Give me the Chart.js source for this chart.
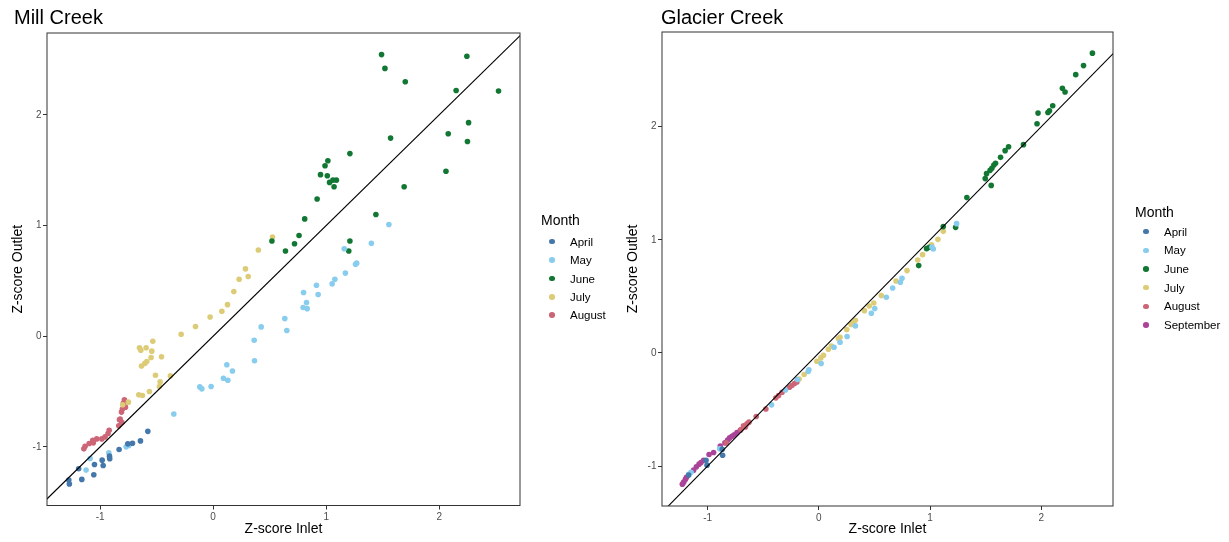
<!DOCTYPE html>
<html>
<head>
<meta charset="utf-8">
<title>Inlet vs outlet z-scores</title>
<script src="https://cdn.jsdelivr.net/npm/chart.js@4.4.0/dist/chart.umd.min.js"></script>
<style>
  html, body { margin: 0; padding: 0; background: #fff; }
  #wrap { position: relative; width: 1229px; height: 542px; overflow: hidden;
          font-family: "Liberation Sans", Arial, Helvetica, sans-serif; color: #000; }
  canvas { position: absolute; top: 0; }
  .ptitle { position: absolute; font-size: 20px; line-height: 22px; white-space: nowrap; }
  .lg-title { position: absolute; font-size: 14px; line-height: 16px; white-space: nowrap; }
  .lg-dot { position: absolute; width: 5.6px; height: 5.6px; border-radius: 50%; }
  .lg-text { position: absolute; font-size: 11.5px; line-height: 12px; white-space: nowrap; }
</style>
</head>
<body>
<div id="wrap">
  <canvas id="mill" width="615" height="542" style="left:0px"></canvas>
  <canvas id="glacier" width="614" height="542" style="left:615px"></canvas>
  <div class="ptitle" style="left:14px; top:6px">Mill Creek</div>
  <div class="ptitle" style="left:661px; top:6px">Glacier Creek</div>
  <div id="legend-mill"></div>
  <div id="legend-glacier"></div>
</div>
<script>
// ---- colours per month ----
const monthNames = ["April", "May", "June", "July", "August", "September"];
const monthColors = ["#4477AA", "#88CCEE", "#117733", "#DDCC77", "#CC6677", "#AA4499"];

// ---- tick values ----
const millXTicks = [-1, 0, 1, 2];
const millYTicks = [-1, 0, 1, 2];
const glacierXTicks = [-1, 0, 1, 2];
const glacierYTicks = [-1, 0, 1, 2];

// ---- 1:1 reference line ----
const oneToOne = [[-5, -5], [5, 5]];

// ---- Mill Creek: [z inlet, z outlet] ----
const millApril = [[-0.578,-0.86],[-0.643,-0.946],[-0.714,-0.967],[-0.755,-0.973],[-0.832,-1.024],
  [-0.917,-1.084],[-0.915,-1.108],[-0.982,-1.12],[-1.05,-1.159],[-0.973,-1.168],[-1.19,-1.198],
  [-1.056,-1.252],[-1.162,-1.294],[-1.277,-1.30],[-1.272,-1.336]];
const millMay = [[1.555,1.01],[1.40,0.84],[1.16,0.79],[1.27,0.66],[1.26,0.65],[1.17,0.57],[1.077,0.515],
  [1.053,0.473],[0.914,0.461],[0.929,0.377],[0.80,0.395],[0.826,0.305],[0.796,0.26],[0.832,0.249],
  [0.634,0.159],[0.652,0.051],[0.425,0.084],[0.363,-0.036],[0.366,-0.222],[0.121,-0.258],[0.171,-0.314],
  [0.091,-0.38],[0.13,-0.398],[-0.118,-0.458],[-0.10,-0.476],[-0.018,-0.455],[-0.348,-0.703],
  [-0.746,-0.988],[-0.77,-1.0],[-0.923,-1.054],[-1.088,-1.105],[-1.124,-1.21]];
const millJune = [[1.49,2.545],[1.52,2.42],[1.70,2.30],[2.245,2.53],[2.15,2.22],[2.525,2.215],[2.26,1.93],
  [2.08,1.83],[2.25,1.76],[1.57,1.79],[1.21,1.65],[1.015,1.585],[0.99,1.54],[0.95,1.46],[1.01,1.45],
  [1.06,1.41],[1.09,1.41],[1.03,1.39],[1.07,1.35],[2.06,1.49],[0.92,1.24],[1.69,1.35],[0.81,1.06],
  [1.44,1.10],[0.76,0.91],[0.72,0.835],[1.21,0.86],[0.52,0.86],[0.64,0.77],[1.20,0.77]];
const millJuly = [[0.525,0.896],[0.40,0.779],[0.286,0.608],[0.31,0.539],[0.23,0.515],[0.183,0.404],
  [0.127,0.285],[0.077,0.225],[-0.027,0.174],[-0.156,0.087],[-0.283,0.018],[-0.534,-0.045],
  [-0.652,-0.105],[-0.64,-0.126],[-0.593,-0.105],[-0.543,-0.135],[-0.457,-0.186],[-0.549,-0.192],
  [-0.587,-0.228],[-0.604,-0.246],[-0.634,-0.27],[-0.51,-0.353],[-0.378,-0.359],[-0.469,-0.413],
  [-0.475,-0.455],[-0.564,-0.50],[-0.658,-0.53],[-0.626,-0.536],[-0.75,-0.596],[-0.80,-0.62]];
const millAugust = [[-0.785,-0.575],[-0.794,-0.605],[-0.776,-0.641],[-0.803,-0.659],[-0.811,-0.686],
  [-0.823,-0.749],[-0.829,-0.755],[-0.808,-0.779],[-0.835,-0.809],[-0.92,-0.85],[-0.93,-0.88],
  [-0.956,-0.91],[-0.985,-0.928],[-1.03,-0.928],[-1.065,-0.94],[-1.06,-0.964],[-1.097,-0.97],
  [-1.133,-0.994],[-1.144,-1.018]];

// ---- Glacier Creek: [z inlet, z outlet] ----
const glacierApril = [[-0.865,-0.904],[-0.868,-0.851],[-1.005,-0.992],[-1.014,-0.948],[-1.17,-1.08]];
const glacierMay = [[1.239,1.143],[1.029,0.919],[1.017,0.936],[0.748,0.66],[0.733,0.625],[0.664,0.574],
  [0.607,0.492],[0.503,0.392],[0.472,0.351],[0.329,0.239],[0.254,0.145],[0.191,0.095],[0.137,0.05],
  [0.021,-0.094],[-0.09,-0.15],[-0.096,-0.164],[-0.192,-0.235],[-0.30,-0.327],[-0.425,-0.459],
  [-0.892,-0.848],[-1.149,-1.054],[-1.17,-1.072]];
const glacierJune = [[2.46,2.65],[2.38,2.54],[2.31,2.46],[2.19,2.34],[2.214,2.306],[2.103,2.185],
  [2.074,2.141],[2.06,2.126],[1.971,2.12],[1.962,2.026],[1.84,1.841],[1.706,1.823],[1.675,1.788],
  [1.634,1.729],[1.589,1.676],[1.574,1.661],[1.556,1.632],[1.54,1.614],[1.508,1.585],[1.496,1.541],
  [1.55,1.481],[1.331,1.373],[1.119,1.117],[1.23,1.11],[0.969,0.922],[0.993,0.934],[0.898,0.772]];
const glacierJuly = [[1.119,1.075],[1.071,1.004],[1.014,0.957],[0.933,0.869],[0.889,0.822],[0.793,0.728],
  [0.694,0.636],[0.562,0.507],[0.494,0.442],[0.454,0.415],[0.41,0.374],[0.329,0.289],[0.305,0.265],
  [0.29,0.251],[0.251,0.207],[0.191,0.139],[0.176,0.127],[0.113,0.062],[0.086,0.033],[0.042,-0.02],
  [0.018,-0.044],[-0.018,-0.073],[-0.132,-0.191],[-0.177,-0.23]];
const glacierAugust = [[-0.197,-0.256],[-0.219,-0.27],[-0.242,-0.288],[-0.264,-0.303],[-0.33,-0.347],
  [-0.362,-0.376],[-0.386,-0.397],[-0.476,-0.495],[-0.563,-0.562],[-0.628,-0.612],[-0.646,-0.627],
  [-0.66,-0.654],[-0.677,-0.645],[-0.70,-0.677],[-0.832,-0.795]];
const glacierSeptember = [[-0.706,-0.683],[-0.736,-0.703],[-0.76,-0.724],[-0.781,-0.736],[-0.802,-0.751],
  [-0.82,-0.771],[-0.844,-0.795],[-0.886,-0.822],[-0.946,-0.88],[-0.987,-0.898],[-1.036,-0.948],
  [-1.059,-0.969],[-1.077,-0.983],[-1.101,-1.007],[-1.126,-1.036],[-1.19,-1.10],[-1.20,-1.118],
  [-1.215,-1.142],[-1.227,-1.16]];

const millSeries = [millApril, millMay, millJune, millJuly, millAugust];
const glacierSeries = [glacierApril, glacierMay, glacierJune, glacierJuly, glacierAugust, glacierSeptember];

Chart.defaults.font.family = '"Liberation Sans", Arial, Helvetica, sans-serif';
Chart.defaults.color = '#4D4D4D';

// box around the plotting panel
const panelBorder = {
  id: 'panelBorder',
  afterDatasetsDraw(chart) {
    const { ctx, chartArea: a } = chart;
    ctx.save();
    ctx.strokeStyle = '#333333';
    ctx.lineWidth = 1;
    ctx.strokeRect(a.left, a.top, a.right - a.left, a.bottom - a.top);
    ctx.restore();
  }
};

function toXY(pairs) { return pairs.map(p => ({ x: p[0], y: p[1] })); }

function buildChart(canvasId, series, cfg) {
  const datasets = series.map((pts, i) => ({
    type: 'scatter',
    label: monthNames[i],
    data: toXY(pts),
    backgroundColor: monthColors[i],
    borderWidth: 0,
    pointRadius: 2.8,
    pointHoverRadius: 2.8,
    order: 1
  }));
  datasets.push({
    type: 'line',
    label: '1:1',
    data: toXY(oneToOne),
    borderColor: '#000000',
    borderWidth: 1.1,
    pointRadius: 0,
    fill: false,
    clip: 0,
    order: 0
  });

  const gridOpts = { display: true, drawOnChartArea: false, drawTicks: true,
                     tickLength: 4, tickColor: '#333333', color: '#333333' };

  return new Chart(document.getElementById(canvasId), {
    data: { datasets },
    options: {
      responsive: false,
      animation: false,
      devicePixelRatio: 1,
      events: [],
      layout: { padding: cfg.padding },
      plugins: { legend: { display: false }, tooltip: { enabled: false } },
      scales: {
        x: {
          type: 'linear', position: 'bottom',
          min: cfg.xMin, max: cfg.xMax,
          afterBuildTicks: s => { s.ticks = cfg.xTicks.map(v => ({ value: v })); },
          afterFit: s => { s.height = cfg.xHeight; },
          grid: gridOpts,
          border: { display: false },
          ticks: { color: '#4D4D4D', font: { size: 10 }, padding: 2, maxRotation: 0, autoSkip: false },
          title: { display: true, text: 'Z-score Inlet', color: '#000', font: { size: 14 },
                   padding: { top: 0, bottom: 4.6 } }
        },
        y: {
          type: 'linear', position: 'left',
          min: cfg.yMin, max: cfg.yMax,
          afterBuildTicks: s => { s.ticks = cfg.yTicks.map(v => ({ value: v })); },
          afterFit: s => { s.width = 47; },
          grid: gridOpts,
          border: { display: false },
          ticks: { color: '#4D4D4D', font: { size: 10 }, padding: 1.5, autoSkip: false },
          title: { display: true, text: 'Z-score Outlet', color: '#000', font: { size: 14 },
                   padding: { top: 9.6, bottom: 0 } }
        }
      }
    },
    plugins: [panelBorder]
  });
}

buildChart('mill', millSeries, {
  xMin: -1.47, xMax: 2.715, yMin: -1.53, yMax: 2.74,
  xTicks: millXTicks, yTicks: millYTicks,
  padding: { left: 0, top: 33, right: 95, bottom: 0 }, xHeight: 36.5
});
buildChart('glacier', glacierSeries, {
  xMin: -1.41, xMax: 2.645, yMin: -1.353, yMax: 2.837,
  xTicks: glacierXTicks, yTicks: glacierYTicks,
  padding: { left: 0, top: 32, right: 116, bottom: 0 }, xHeight: 36
});

// month legends
function buildLegend(hostId, count, x, titleTop, firstY, step) {
  const host = document.getElementById(hostId);
  const t = document.createElement('div');
  t.className = 'lg-title';
  t.textContent = 'Month';
  t.style.left = (x - 11) + 'px';
  t.style.top = titleTop + 'px';
  host.appendChild(t);
  for (let i = 0; i < count; i++) {
    const cy = firstY + step * i;
    const d = document.createElement('div');
    d.className = 'lg-dot';
    d.style.background = monthColors[i];
    d.style.left = (x - 2.8) + 'px';
    d.style.top = (cy - 2.8) + 'px';
    host.appendChild(d);
    const s = document.createElement('div');
    s.className = 'lg-text';
    s.textContent = monthNames[i];
    s.style.left = (x + 18) + 'px';
    s.style.top = (cy - 5.9) + 'px';
    host.appendChild(s);
  }
}
buildLegend('legend-mill', 5, 552, 211.6, 241.7, 18.35);
buildLegend('legend-glacier', 6, 1146, 203.5, 231.7, 18.65);
</script>
</body>
</html>
